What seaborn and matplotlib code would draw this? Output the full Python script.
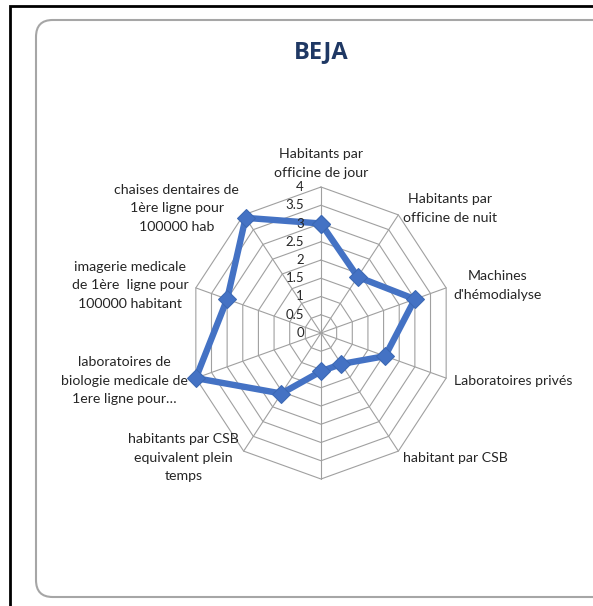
import numpy as np
import pandas as pd
import seaborn as sns
import matplotlib.pyplot as plt
from matplotlib.patches import FancyBboxPatch, Rectangle

# Données du graphique radar (BEJA)
categories = [
    "Habitants par\nofficine de jour",
    "Habitants par\nofficine de nuit",
    "Machines\nd'hémodialyse",
    "Laboratoires privés",
    "habitant par CSB",
    "",
    "habitants par CSB\nequivalent plein\ntemps",
    "laboratoires de\nbiologie medicale de\n1ere ligne pour…",
    "imagerie medicale\nde 1ère  ligne pour\n100000 habitant",
    "chaises dentaires de\n1ère ligne pour\n100000 hab",
]
values = [3.0, 1.9, 3.0, 2.05, 1.05, 1.05, 2.05, 4.0, 3.0, 3.9]
ticks = [0, 0.5, 1, 1.5, 2, 2.5, 3, 3.5, 4]
tick_labels = ["0", "0.5", "1", "1.5", "2", "2.5", "3", "3.5", "4"]

sns.set_theme(style="white")
plt.rcParams["font.family"] = ["Lato", "DejaVu Sans"]

# Géométrie (en pixels de l'image)
W, H = 593, 606
cx, cy = 321, 333
sx, sy = 32.9, 36.5  # pixels par unité (image un peu écrasée en largeur)

fig = plt.figure(figsize=(W / 100, H / 100), dpi=100)
fig.patch.set_facecolor("white")

# Cadre noir + boîte arrondie grise (derrière le graphique)
fig.add_artist(Rectangle((10 / W, -0.2), 1.5, 1.2 - 6 / H,
                         transform=fig.transFigure, fill=False,
                         edgecolor="black", lw=2, clip_on=False, zorder=-10))
fig.add_artist(FancyBboxPatch((36 / W, 1 - 597 / H), 0.99, (597 - 20) / H,
                              boxstyle="round,pad=0,rounding_size=0.028",
                              transform=fig.transFigure, facecolor="white",
                              edgecolor="#a6a6a6", lw=1.5, clip_on=False, zorder=-9))

ax = fig.add_axes([0, 0, 1, 1])
ax.patch.set_alpha(0)

n = len(categories)
theta = np.pi / 2 - 2 * np.pi * np.arange(n) / n
theta_c = np.append(theta, theta[0])

# Grille décagonale
grid_col = "#a0a0a0"
for r in ticks[1:]:
    ax.plot(r * np.cos(theta_c), r * np.sin(theta_c), color=grid_col, lw=0.8, zorder=1)
for t in theta:
    ax.plot([0, ticks[-1] * np.cos(t)], [0, ticks[-1] * np.sin(t)], color=grid_col, lw=0.8, zorder=1)

# Série
vals_c = np.append(values, values[0])
df = pd.DataFrame({"x": vals_c * np.cos(theta_c), "y": vals_c * np.sin(theta_c)})
sns.lineplot(data=df, x="x", y="y", sort=False, estimator=None, ax=ax,
             color="#4472c4", lw=4.6, marker="D", markersize=9,
             markeredgecolor="#3c68b4", zorder=3)
ax.set_xlim(-cx / sx, (W - cx) / sx)
ax.set_ylim((cy - H) / sy, cy / sy)
ax.axis("off")

# Étiquettes des axes
for lab, t in zip(categories, theta):
    c, s = np.cos(t), np.sin(t)
    if c > 0.1:
        ha = "left"
    elif c < -0.1:
        ha = "right"
    else:
        ha = "center"
    va = "bottom" if s > 0.99 else "center"
    ax.annotate(lab, xy=(ticks[-1] * c, ticks[-1] * s), xytext=(8 * c, 8 * s),
                textcoords="offset pixels", ha=ha, va=va, multialignment="center",
                fontsize=10.2, color="#262626", linespacing=1.65)

# Graduations
for r, tl in zip(ticks, tick_labels):
    ax.annotate(tl, xy=(0, r), xytext=(-17, 0), textcoords="offset pixels",
                ha="right", va="center", fontsize=9.5, color="#262626")

fig.text(cx / W, 1 - 52.5 / H, "BEJA", ha="center", va="center",
         fontsize=17, fontweight="bold", color="#1f3864",
         family=["Open Sans", "DejaVu Sans"])

plt.savefig("out.png", dpi=100)
